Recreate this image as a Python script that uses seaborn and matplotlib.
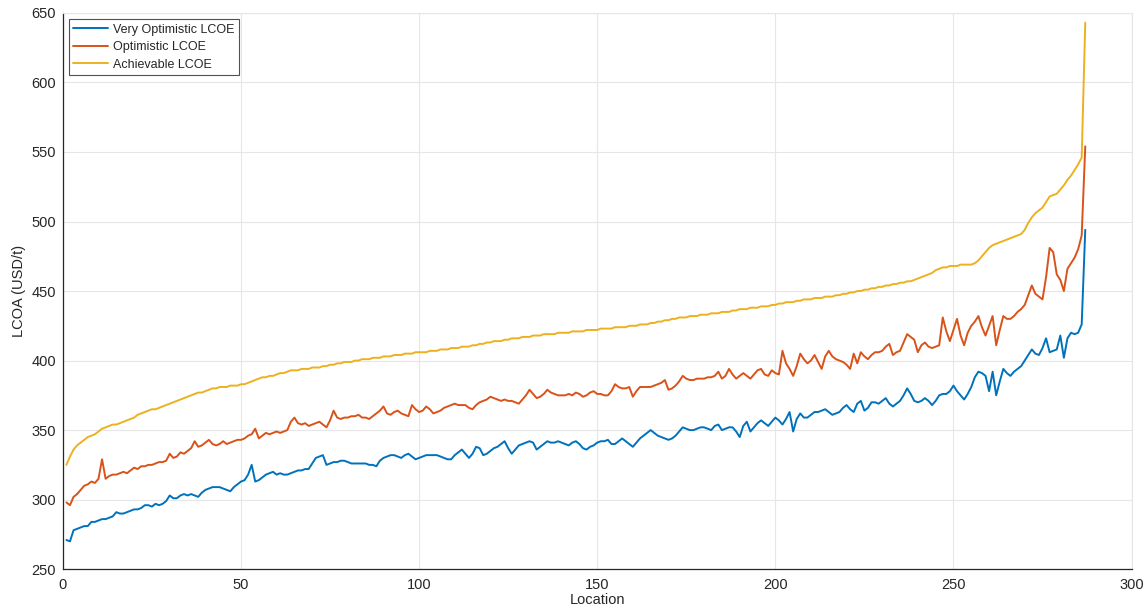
import pandas as pd
import matplotlib.pyplot as plt
import seaborn as sns

# LCOA per location (USD/t)
very_optimistic = [
    271, 270, 278, 279, 280, 281, 281, 284, 284, 285,
    286, 286, 287, 288, 291, 290, 290, 291, 292, 293,
    293, 294, 296, 296, 295, 297, 296, 297, 299, 303,
    301, 301, 303, 304, 303, 304, 303, 302, 305, 307,
    308, 309, 309, 309, 308, 307, 306, 309, 311, 313,
    314, 318, 325, 313, 314, 316, 318, 319, 320, 318,
    319, 318, 318, 319, 320, 321, 321, 322, 322, 326,
    330, 331, 332, 325, 326, 327, 327, 328, 328, 327,
    326, 326, 326, 326, 326, 325, 325, 324, 328, 330,
    331, 332, 332, 331, 330, 332, 333, 331, 329, 330,
    331, 332, 332, 332, 332, 331, 330, 329, 329, 332,
    334, 336, 333, 330, 333, 338, 337, 332, 333, 335,
    337, 338, 340, 342, 337, 333, 336, 339, 340, 341,
    342, 341, 336, 338, 340, 342, 341, 341, 342, 341,
    340, 339, 341, 342, 340, 337, 336, 338, 339, 341,
    342, 342, 343, 340, 340, 342, 344, 342, 340, 338,
    341, 344, 346, 348, 350, 348, 346, 345, 344, 343,
    344, 346, 349, 352, 351, 350, 350, 351, 352, 352,
    351, 350, 353, 354, 350, 351, 352, 352, 349, 345,
    353, 356, 349, 352, 355, 357, 355, 353, 356, 359,
    357, 354, 358, 363, 349, 358, 362, 359, 359, 361,
    363, 363, 364, 365, 363, 361, 362, 363, 366, 368,
    365, 363, 369, 371, 364, 366, 370, 370, 369, 371,
    373, 369, 367, 369, 371, 375, 380, 376, 371, 370,
    371, 373, 371, 368, 371, 375, 376, 376, 378, 382,
    378, 375, 372, 376, 381, 388, 392, 391, 389, 378,
    392, 375, 385, 394, 391, 389, 392, 394, 396, 400,
    404, 408, 405, 404, 409, 416, 406, 407, 408, 418,
    402, 416, 420, 419, 420, 426, 494,
]
optimistic = [
    298, 296, 302, 304, 307, 310, 311, 313, 312, 315,
    329, 315, 317, 318, 318, 319, 320, 319, 321, 323,
    322, 324, 324, 325, 325, 326, 327, 327, 328, 333,
    330, 331, 334, 333, 335, 337, 342, 338, 339, 341,
    343, 340, 339, 340, 342, 340, 341, 342, 343, 343,
    344, 346, 347, 351, 344, 346, 348, 347, 348, 349,
    348, 349, 350, 356, 359, 355, 354, 355, 353, 354,
    355, 356, 354, 352, 357, 364, 359, 358, 359, 359,
    360, 360, 361, 359, 359, 358, 360, 362, 364, 367,
    362, 361, 363, 364, 362, 361, 360, 368, 365, 363,
    364, 367, 365, 362, 363, 364, 366, 367, 368, 369,
    368, 368, 368, 366, 365, 368, 370, 371, 372, 374,
    373, 372, 371, 372, 371, 371, 370, 369, 372, 375,
    379, 376, 373, 374, 376, 379, 377, 376, 375, 375,
    375, 376, 375, 377, 376, 374, 375, 377, 378, 376,
    376, 375, 375, 378, 383, 381, 380, 380, 381, 374,
    378, 381, 381, 381, 381, 382, 383, 384, 386, 379,
    380, 382, 385, 389, 387, 386, 386, 387, 387, 387,
    388, 388, 389, 392, 387, 389, 394, 390, 387, 389,
    391, 389, 387, 390, 393, 394, 390, 389, 393, 391,
    390, 407, 398, 394, 389, 396, 405, 401, 398, 400,
    404, 399, 394, 403, 407, 403, 401, 400, 399, 397,
    394, 405, 398, 406, 403, 401, 404, 406, 406, 407,
    410, 412, 404, 406, 407, 413, 419, 417, 415, 406,
    411, 413, 410, 409, 410, 411, 431, 421, 414, 422,
    430, 418, 411, 420, 425, 428, 432, 424, 418, 425,
    432, 411, 422, 432, 430, 430, 432, 435, 437, 440,
    447, 454, 448, 446, 444, 460, 481, 478, 462, 458,
    450, 466, 470, 474, 480, 490, 554,
]
achievable = [
    325, 331, 336, 339, 341, 343, 345, 346, 347, 349,
    351, 352, 353, 354, 354, 355, 356, 357, 358, 359,
    361, 362, 363, 364, 365, 365, 366, 367, 368, 369,
    370, 371, 372, 373, 374, 375, 376, 377, 377, 378,
    379, 380, 380, 381, 381, 381, 382, 382, 382, 383,
    383, 384, 385, 386, 387, 388, 388, 389, 389, 390,
    391, 391, 392, 393, 393, 393, 394, 394, 394, 395,
    395, 395, 396, 396, 397, 397, 398, 398, 399, 399,
    399, 400, 400, 401, 401, 401, 402, 402, 402, 403,
    403, 403, 404, 404, 404, 405, 405, 405, 406, 406,
    406, 406, 407, 407, 407, 408, 408, 408, 409, 409,
    409, 410, 410, 410, 411, 411, 412, 412, 413, 413,
    414, 414, 414, 415, 415, 416, 416, 416, 417, 417,
    417, 418, 418, 418, 419, 419, 419, 419, 420, 420,
    420, 420, 421, 421, 421, 421, 422, 422, 422, 422,
    423, 423, 423, 423, 424, 424, 424, 424, 425, 425,
    425, 426, 426, 426, 427, 427, 428, 428, 429, 429,
    430, 430, 431, 431, 431, 432, 432, 432, 433, 433,
    433, 434, 434, 434, 435, 435, 435, 436, 436, 437,
    437, 437, 438, 438, 438, 439, 439, 439, 440, 440,
    441, 441, 442, 442, 442, 443, 443, 444, 444, 444,
    445, 445, 445, 446, 446, 446, 447, 447, 448, 448,
    449, 449, 450, 450, 451, 451, 452, 452, 453, 453,
    454, 454, 455, 455, 456, 456, 457, 457, 458, 459,
    460, 461, 462, 463, 465, 466, 467, 467, 468, 468,
    468, 469, 469, 469, 469, 470, 472, 475, 478, 481,
    483, 484, 485, 486, 487, 488, 489, 490, 491, 494,
    499, 503, 506, 508, 510, 514, 518, 519, 520, 523,
    526, 530, 533, 537, 541, 546, 643,
]
series_names = ['Very Optimistic LCOE', 'Optimistic LCOE', 'Achievable LCOE']
locations = list(range(1, len(achievable) + 1))

frames = []
for name, vals in zip(series_names, [very_optimistic, optimistic, achievable]):
    frames.append(pd.DataFrame({'Location': locations, 'LCOA': vals, 'scenario': name}))
df = pd.concat(frames, ignore_index=True)

sns.set_style('white')
plt.rcParams['font.family'] = ['Liberation Sans', 'DejaVu Sans']

# MATLAB default line colours
palette = {'Very Optimistic LCOE': '#0072BD',
           'Optimistic LCOE': '#D95319',
           'Achievable LCOE': '#EDB120'}

fig, ax = plt.subplots(figsize=(11.43, 6.14), dpi=100)
fig.subplots_adjust(left=0.055, right=0.99, top=0.979, bottom=0.073)

sns.lineplot(ax=ax, data=df, x='Location', y='LCOA', hue='scenario',
             palette=palette, linewidth=1.4)

ax.set_xlim(0, 300)
ax.set_ylim(250, 650)
ax.set_xticks(range(0, 301, 50))
ax.set_yticks(range(250, 651, 50))
ax.grid(True, color='#e6e6e6', linewidth=0.8)
ax.set_axisbelow(True)
ax.tick_params(direction='in', length=4, labelsize=10.5, colors='#262626')
ax.tick_params(axis='x', pad=6)
ax.tick_params(axis='y', pad=5)
for side in ['left', 'bottom']:
    ax.spines[side].set_color('#262626')
    ax.spines[side].set_linewidth(0.9)
for side in ['top', 'right']:
    ax.spines[side].set_color('#e6e6e6')
    ax.spines[side].set_linewidth(0.8)

ax.set_xlabel('Location', fontsize=10.5, color='#262626', labelpad=1)
ax.set_ylabel('LCOA (USD/t)', fontsize=10.5, color='#262626', labelpad=4)

leg = ax.legend(loc='upper left', fontsize=9, frameon=True, fancybox=False,
                edgecolor='#262626', handlelength=2.8, borderpad=0.35,
                labelspacing=0.45, handletextpad=0.4, borderaxespad=0.5)
leg.get_frame().set_linewidth(0.8)

plt.savefig('out.png', dpi=100)
